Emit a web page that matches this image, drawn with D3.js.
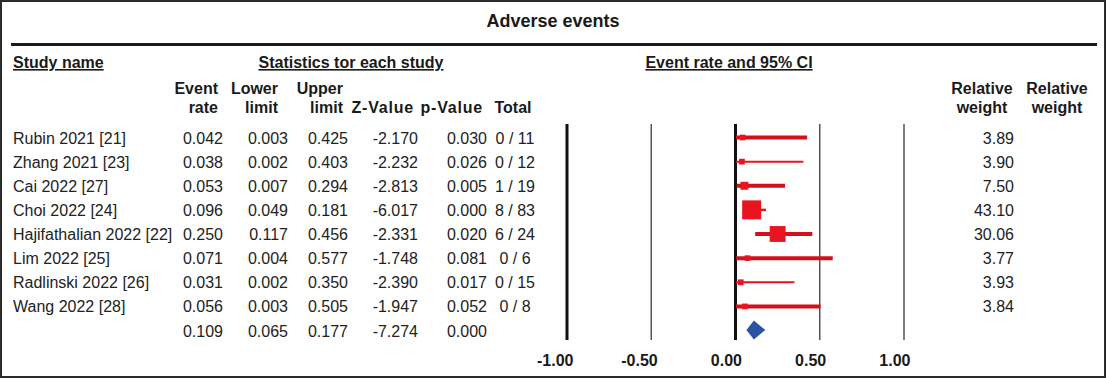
<!DOCTYPE html>
<html>
<head>
<meta charset="utf-8">
<script src="https://cdn.jsdelivr.net/npm/d3@7"></script>
<style>
  html, body { margin: 0; padding: 0; background: #fff; }
  svg { display: block; font-family: "Liberation Sans", Arial, Helvetica, sans-serif; }
</style>
</head>
<body>
<svg id="chart" width="1107" height="378"></svg>
<script>
// ---------------- DATA ----------------
const chartTitle = "Adverse events";
const studies = [
  "Rubin 2021 [21]", "Zhang 2021 [23]", "Cai 2022 [27]", "Choi 2022 [24]",
  "Hajifathalian 2022 [22]", "Lim 2022 [25]", "Radlinski 2022 [26]", "Wang 2022 [28]"
];
const eventRate  = [0.042, 0.038, 0.053, 0.096, 0.250, 0.071, 0.031, 0.056];
const lowerLimit = [0.003, 0.002, 0.007, 0.049, 0.117, 0.004, 0.002, 0.003];
const upperLimit = [0.425, 0.403, 0.294, 0.181, 0.456, 0.577, 0.350, 0.505];
const zValue     = [-2.170, -2.232, -2.813, -6.017, -2.331, -1.748, -2.390, -1.947];
const pValue     = [0.030, 0.026, 0.005, 0.000, 0.020, 0.081, 0.017, 0.052];
const totals     = ["0 / 11", "0 / 12", "1 / 19", "8 / 83", "6 / 24", "0 / 6", "0 / 15", "0 / 8"];
const relWeight  = [3.89, 3.90, 7.50, 43.10, 30.06, 3.77, 3.93, 3.84];
// summary: event rate, lower, upper, z, p
const summaryStats = [0.109, 0.065, 0.177, -7.274, 0.000];
const axisTicks = [-1.00, -0.50, 0.00, 0.50, 1.00];

// ---------------- DRAWING ----------------
const svg = d3.select("#chart");
const W = 1107, H = 378;
const ink = "#1a1a1a";
const red = "#e8141f", redLine = "#d3101c", blue = "#2c52a3";

// frame
svg.append("rect").attr("x", 1).attr("y", 1).attr("width", W - 3).attr("height", H - 2)
  .attr("fill", "#fff").attr("stroke", "#2a2a2a").attr("stroke-width", 2);

// title
svg.append("text").attr("x", 553).attr("y", 26.5).attr("text-anchor", "middle")
  .attr("font-size", 18).attr("font-weight", "bold").attr("fill", ink).text(chartTitle);

svg.append("line").attr("x1", 11).attr("x2", 1097).attr("y1", 44.5).attr("y2", 44.5)
  .attr("stroke", ink).attr("stroke-width", 3);

// section headers (underlined)
const secHeads = [
  { t: "Study name", x: 13, a: "start" },
  { t: "Statistics tor each study", x: 351, a: "middle" },
  { t: "Event rate and 95% CI", x: 729, a: "middle" }
];
svg.selectAll("text.sec").data(secHeads).join("text").attr("class", "sec")
  .attr("x", d => d.x).attr("y", 68).attr("text-anchor", d => d.a)
  .attr("font-size", 16).attr("font-weight", "bold").attr("fill", ink)
  .style("text-decoration", "underline").text(d => d.t);

// column headers
const colHeads = [
  { l1: "Event", l2: "rate", x: 218, a: "end" },
  { l1: "Lower", l2: "limit", x: 278, a: "end" },
  { l1: "Upper", l2: "limit", x: 343, a: "end" },
  { l1: "", l2: "Z-Value", x: 414, a: "end" },
  { l1: "", l2: "p-Value", x: 483, a: "end" },
  { l1: "", l2: "Total", x: 513, a: "middle" },
  { l1: "Relative", l2: "weight", x: 982, a: "middle" },
  { l1: "Relative", l2: "weight", x: 1057, a: "middle" }
];
const hg = svg.append("g").attr("font-size", 16).attr("font-weight", "bold").attr("fill", ink);
hg.selectAll("text.h1").data(colHeads).join("text").attr("class", "h1")
  .attr("x", d => d.x).attr("y", 94).attr("text-anchor", d => d.a).text(d => d.l1);
hg.selectAll("text.h2").data(colHeads).join("text").attr("class", "h2")
  .attr("x", d => d.x).attr("y", 113).attr("text-anchor", d => d.a)
  .attr("letter-spacing", d => d.l2.includes("Value") ? 0.8 : 0).text(d => d.l2);

// row scale
const rowIdx = d3.range(studies.length + 1);
const y = d3.scalePoint().domain(rowIdx).range([137.5, 330.5]);
const f3 = v => v.toFixed(3);

const rows = studies.map((s, i) => ({
  name: s, er: eventRate[i], lo: lowerLimit[i], up: upperLimit[i],
  z: zValue[i], p: pValue[i], tot: totals[i], w: relWeight[i], i
}));

const tg = svg.append("g").attr("font-size", 16).attr("fill", "#222");
const cols = [
  { x: 13, a: "start", f: d => d.name },
  { x: 223, a: "end", f: d => f3(d.er) },
  { x: 288, a: "end", f: d => f3(d.lo) },
  { x: 348, a: "end", f: d => f3(d.up) },
  { x: 418, a: "end", f: d => f3(d.z) },
  { x: 487, a: "end", f: d => f3(d.p) },
  { x: 515, a: "middle", f: d => d.tot },
  { x: 1014, a: "end", f: d => d.w.toFixed(2) }
];
cols.forEach((c, ci) => {
  tg.selectAll("text.c" + ci).data(rows).join("text").attr("class", "c" + ci)
    .attr("x", c.x).attr("y", d => y(d.i) + 6).attr("text-anchor", c.a).text(c.f);
});
// summary row
const sumCols = [223, 288, 348, 418, 487];
tg.selectAll("text.sum").data(summaryStats).join("text").attr("class", "sum")
  .attr("x", (d, i) => sumCols[i]).attr("y", y(studies.length) + 6)
  .attr("text-anchor", "end").text(d => f3(d));

// forest plot
const x = d3.scaleLinear().domain([-1, 1]).range([567, 904]);
svg.append("g").selectAll("line").data(axisTicks).join("line")
  .attr("x1", d => x(d)).attr("x2", d => x(d)).attr("y1", 124).attr("y2", 340)
  .attr("stroke", d => (d === -1 || d === 0) ? "#111" : "#555")
  .attr("stroke-width", d => (d === -1 || d === 0) ? 3 : 1.5);

const ciStroke = [4, 2, 4, 2.5, 4, 4, 2, 4];
svg.append("g").selectAll("line").data(rows).join("line")
  .attr("x1", d => x(d.lo)).attr("x2", d => x(d.up))
  .attr("y1", d => y(d.i)).attr("y2", d => y(d.i))
  .attr("stroke", (d, i) => ciStroke[i] > 3 ? redLine : red)
  .attr("stroke-width", (d, i) => ciStroke[i]);

const sz = d3.scaleSqrt().domain([0, 43.10]).range([0, 19]);
svg.append("g").selectAll("rect").data(rows).join("rect")
  .attr("x", d => x(d.er) - sz(d.w) / 2).attr("y", d => y(d.i) - sz(d.w) / 2)
  .attr("width", d => sz(d.w)).attr("height", d => sz(d.w))
  .attr("fill", red);

// summary diamond
const yc = y(studies.length) - 0.5;
const dm = [[x(summaryStats[1]), yc], [x(summaryStats[0]), yc - 9.5],
            [x(summaryStats[2]), yc], [x(summaryStats[0]), yc + 9.5]];
svg.append("path").attr("d", d3.line()(dm) + "Z").attr("fill", blue);

// axis labels
const axis = d3.axisBottom(x).tickValues(axisTicks).tickFormat(d => d.toFixed(2))
  .tickSize(0).tickPadding(0);
const ag = svg.append("g").attr("transform", "translate(0,355)").call(axis);
ag.select(".domain").remove();
ag.selectAll("text").attr("text-anchor", "end").attr("dx", 6)
  .attr("font-size", 16).attr("font-weight", "bold").attr("fill", ink)
  .attr("font-family", "Liberation Sans, Arial, sans-serif");
</script>
</body>
</html>
